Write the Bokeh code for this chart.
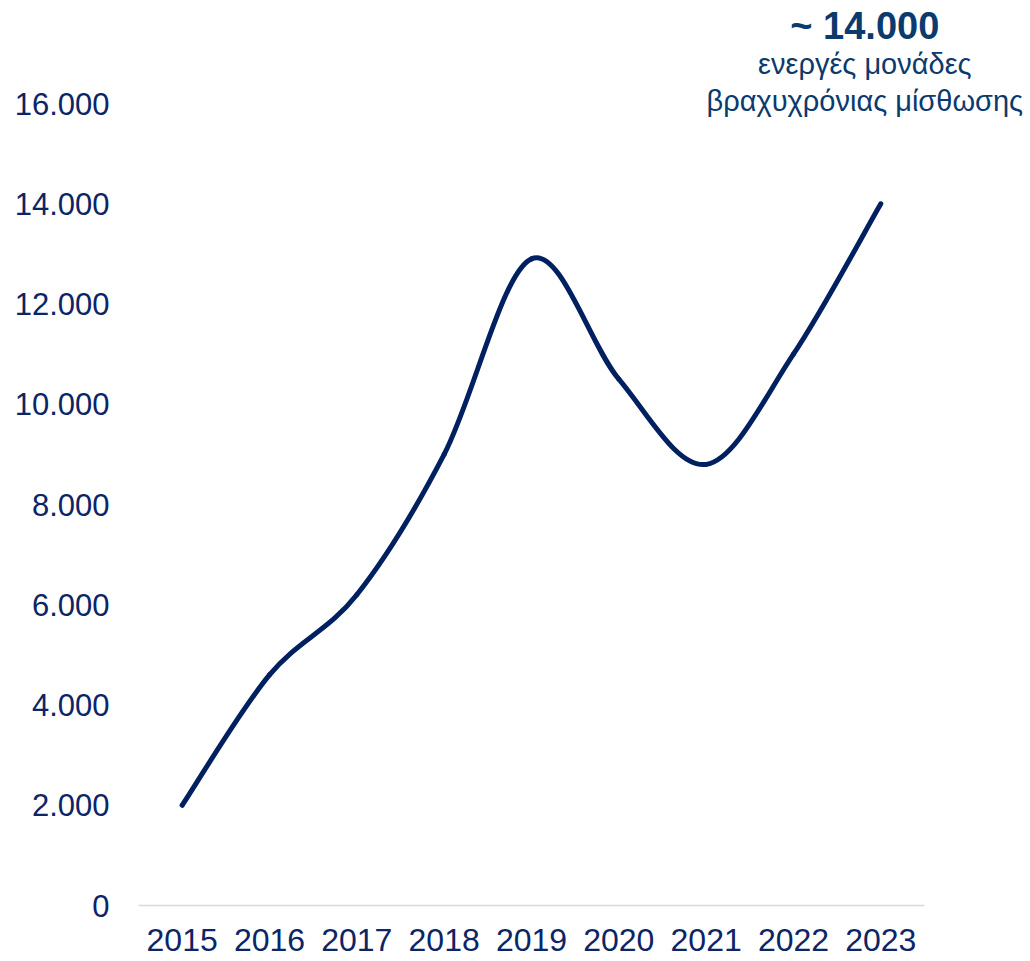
from bokeh.plotting import figure
from bokeh.models import Range1d, FixedTicker, Label
from bokeh.embed import file_html
from bokeh.resources import INLINE

years = ["2015", "2016", "2017", "2018", "2019", "2020", "2021", "2022", "2023"]
units = [2000, 4600, 6200, 9000, 12900, 10500, 8800, 11000, 14000]
ytick_values = [0, 2000, 4000, 6000, 8000, 10000, 12000, 14000, 16000]
headline = "~ 14.000"
caption_lines = ["ενεργές μονάδες", "βραχυχρόνιας μίσθωσης"]

LINE = "#002060"
TXT = "#0B2566"
ANN = "#0B3A6E"
FONT = "Liberation Sans"

xs = list(range(len(years)))
n = len(xs)

# frame: left 138, right edge of figure, bottom 905, top 0
p = figure(width=1030, height=961, output_backend="svg", toolbar_location=None,
           x_range=Range1d(-0.5, -0.5 + 892 / 87.33), y_range=Range1d(0, 905 / 0.050125),
           min_border_left=138, min_border_right=0, min_border_top=0,
           min_border_bottom=56)
p.outline_line_color = None
p.grid.visible = False
p.background_fill_color = "white"
p.border_fill_color = "white"

# smooth line (Catmull-Rom style Bezier segments through the data points)
x0, y0, x1, y1, cx0, cy0, cx1, cy1 = [], [], [], [], [], [], [], []
for i in range(n - 1):
    ip = max(i - 1, 0)
    inn = min(i + 2, n - 1)
    x0.append(xs[i]); y0.append(units[i])
    x1.append(xs[i + 1]); y1.append(units[i + 1])
    cx0.append(xs[i] + (xs[i + 1] - xs[ip]) / 6)
    cy0.append(units[i] + (units[i + 1] - units[ip]) / 6)
    cx1.append(xs[i + 1] - (xs[inn] - xs[i]) / 6)
    cy1.append(units[i + 1] - (units[inn] - units[i]) / 6)
p.bezier(x0=x0, y0=y0, x1=x1, y1=y1, cx0=cx0, cy0=cy0, cx1=cx1, cy1=cy1,
         line_color=LINE, line_width=5, line_cap="round")

# x axis
p.xaxis.bounds = (xs[0] - 0.5, xs[-1] + 0.5)
p.xaxis.ticker = FixedTicker(ticks=xs)
p.xaxis.major_label_overrides = {i: y for i, y in zip(xs, years)}
p.xaxis.axis_line_color = "#D9D9D9"
p.xaxis.axis_line_width = 1.5
p.xaxis.major_tick_line_color = None
p.xaxis.minor_tick_line_color = None
p.xaxis.major_tick_out = 0
p.xaxis.major_tick_in = 0
p.xaxis.major_label_standoff = 23
p.xaxis.major_label_text_font = FONT
p.xaxis.major_label_text_font_size = "32px"
p.xaxis.major_label_text_color = TXT

# y axis
p.yaxis.ticker = FixedTicker(ticks=ytick_values)
p.yaxis.major_label_overrides = {v: f"{v:,}".replace(",", ".") for v in ytick_values}
p.yaxis.axis_line_color = None
p.yaxis.major_tick_line_color = None
p.yaxis.minor_tick_line_color = None
p.yaxis.major_tick_out = 0
p.yaxis.major_tick_in = 0
p.yaxis.major_label_standoff = 29
p.yaxis.major_label_text_font = FONT
p.yaxis.major_label_text_font_size = "31px"
p.yaxis.major_label_text_color = TXT

# annotation anchored to last point
p.add_layout(Label(x=xs[-1], y=units[-1], x_offset=-16, y_offset=178, text=headline,
                   text_align="center", text_baseline="alphabetic",
                   text_font=FONT, text_font_style="bold", text_font_size="38px",
                   text_color=ANN))
for line_text, off in zip(caption_lines, [140, 103]):
    p.add_layout(Label(x=xs[-1], y=units[-1], x_offset=-16, y_offset=off, text=line_text,
                       text_align="center", text_baseline="alphabetic",
                       text_font=FONT, text_font_size="29px", text_color=ANN))

open("out.html", "w").write(file_html(p, INLINE))
